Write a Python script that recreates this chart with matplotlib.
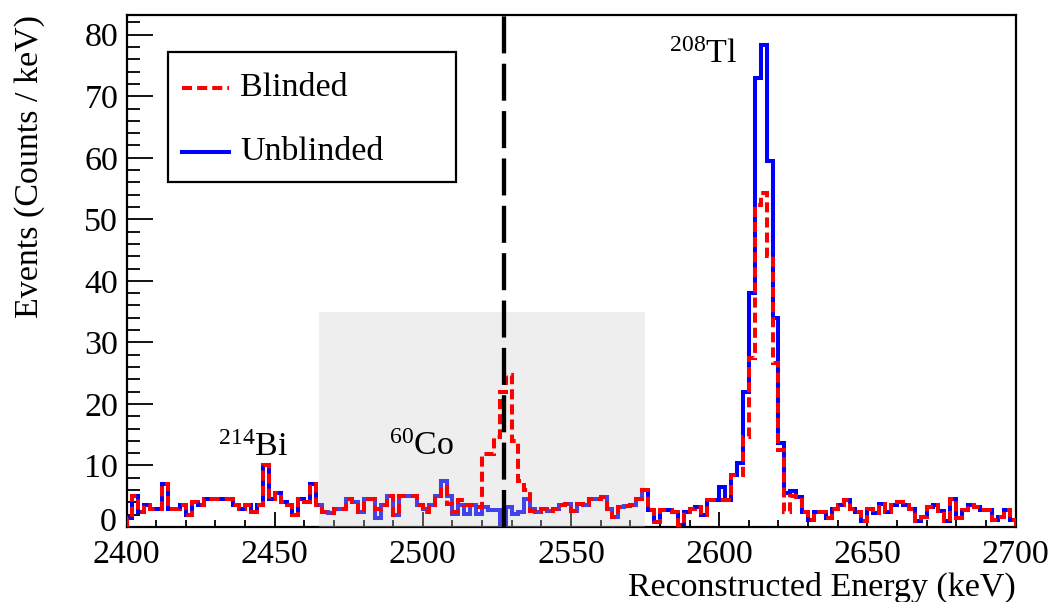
import numpy as np
import matplotlib
matplotlib.use("Agg")
import matplotlib.pyplot as plt
import matplotlib.transforms as mtransforms
from matplotlib.patches import Rectangle
from matplotlib.lines import Line2D
from matplotlib.ticker import MultipleLocator

# ---------------- data ----------------
bin_width = 2.0
e_min, e_max = 2400, 2700

unblinded = [
    1.5, 5.0, 2.5, 3.5, 3.0, 3.0, 7.0, 3.0, 3.0, 3.5,
    2.0, 4.0, 3.5, 4.5, 4.5, 4.5, 4.5, 4.5, 3.5, 3.0,
    3.5, 2.5, 3.5, 10.0, 4.5, 5.5, 4.0, 3.5, 2.0, 4.5,
    4.0, 7.0, 3.5, 2.5, 2.2, 3.0, 3.0, 4.5, 4.0, 2.5,
    4.5, 4.5, 1.4, 3.5, 5.0, 2.0, 5.0, 5.0, 5.0, 3.5,
    3.0, 3.6, 5.0, 7.5, 5.0, 2.1, 3.6, 2.1, 3.6, 2.1,
    3.3, 2.8, 2.8, 0.0, 3.3, 2.1, 2.5, 4.5, 3.0, 2.5,
    3.0, 2.6, 3.0, 3.6, 3.8, 2.6, 3.7, 3.6, 4.6, 4.6,
    4.8, 3.0, 1.6, 3.2, 3.4, 3.6, 4.5, 6.0, 2.8, 0.8,
    2.8, 2.8, 2.4, 0.3, 2.4, 3.0, 3.2, 2.0, 4.4, 4.4,
    6.5, 4.4, 8.5, 10.4, 22.0, 38.0, 73.0, 78.4, 59.4, 33.9,
    13.6, 5.5, 5.8, 4.9, 2.5, 1.1, 2.5, 2.5, 1.4, 3.0,
    3.6, 4.4, 3.0, 2.5, 1.0, 3.0, 2.2, 3.8, 2.5, 3.5,
    4.0, 3.5, 3.0, 1.0, 1.6, 3.2, 3.5, 2.6, 1.0, 4.5,
    1.5, 2.7, 3.5, 3.2, 2.8, 2.8, 1.1, 1.6, 2.7, 1.2,
]

blinded = [
    1.5, 5.0, 2.5, 3.5, 3.0, 3.0, 7.0, 3.0, 3.0, 3.5,
    2.0, 4.0, 3.5, 4.5, 4.5, 4.5, 4.5, 4.5, 3.5, 3.0,
    3.5, 2.5, 3.5, 10.0, 4.5, 5.5, 4.0, 3.5, 2.0, 4.5,
    4.0, 7.0, 3.5, 2.5, 2.2, 3.0, 3.0, 4.5, 4.0, 2.5,
    4.5, 4.5, 3.0, 3.5, 5.0, 2.0, 5.0, 5.0, 5.0, 3.5,
    2.5, 3.6, 5.0, 6.5, 3.8, 2.5, 4.4, 3.6, 3.6, 3.3,
    11.8, 11.8, 14.7, 21.9, 24.7, 14.0, 7.4, 6.0, 2.6, 2.5,
    3.0, 2.6, 3.0, 3.6, 3.8, 2.6, 3.7, 3.6, 4.6, 4.6,
    4.8, 3.0, 1.6, 3.2, 3.4, 3.6, 4.5, 6.0, 2.8, 0.8,
    2.8, 2.8, 2.4, 0.3, 2.4, 3.0, 3.2, 2.0, 4.4, 4.4,
    4.4, 4.4, 8.5, 8.5, 14.7, 27.4, 52.4, 54.3, 44.0, 26.6,
    12.5, 2.5, 5.0, 4.9, 2.5, 1.1, 2.5, 2.5, 1.4, 3.0,
    3.6, 4.4, 3.0, 2.5, 1.0, 3.0, 2.2, 3.8, 2.5, 3.5,
    4.0, 3.5, 3.0, 1.0, 1.6, 3.2, 3.5, 2.6, 1.0, 4.5,
    1.5, 2.7, 3.5, 3.2, 2.8, 2.8, 1.1, 1.6, 2.7, 1.2,
]

blind_region = (2465, 2575)
blind_height = 35
q_value = 2527.5
x_ticks = [2400, 2450, 2500, 2550, 2600, 2650, 2700]
y_ticks = [0, 10, 20, 30, 40, 50, 60, 70, 80]
y_max = 83.2

edges = e_min + bin_width * np.arange(len(unblinded) + 1)

# ---------------- style ----------------
FONT = "Liberation Serif"
plt.rcParams["font.family"] = [FONT, "DejaVu Serif"]
plt.rcParams["mathtext.fontset"] = "custom"
plt.rcParams["mathtext.rm"] = FONT
plt.rcParams["mathtext.it"] = FONT + ":italic"
FS = 24.5
LW = 2.9
RED_DASH = (0, (2.5, 1.25))

W, H = 1052, 602
fig = plt.figure(figsize=(W / 100, H / 100), dpi=100)
ax_l, ax_r, ax_t, ax_b = 126.5, 1015.5, 15, 527
ax = fig.add_axes([ax_l / W, 1 - ax_b / H, (ax_r - ax_l) / W, (ax_b - ax_t) / H])

ax.set_xlim(e_min, e_max)
ax.set_ylim(0, y_max)

# unblinded (below the shaded box)
ax.stairs(unblinded, edges, baseline=0, color="#0000ff", lw=LW, zorder=2)

# shaded blinded region (semi-transparent overlay)
ax.add_patch(Rectangle((blind_region[0], 0), blind_region[1] - blind_region[0], blind_height,
                       facecolor=(0.80, 0.80, 0.80), alpha=0.33, edgecolor="none", zorder=3))

# blinded
ax.stairs(blinded, edges, baseline=0, color="#ff0000", lw=LW,
          linestyle=RED_DASH, zorder=4)

# Q-value line
ax.plot([q_value, q_value], [0, y_max], color="black", lw=3.1,
        linestyle=(0, (8.6, 2.4)), zorder=5, solid_capstyle="butt", dash_capstyle="butt")

# ticks
ax.xaxis.set_minor_locator(MultipleLocator(10))
ax.yaxis.set_minor_locator(MultipleLocator(2))
ax.set_xticks(x_ticks)
ax.set_yticks(y_ticks)
ax.tick_params(axis="both", which="both", direction="in", colors="black",
               labelsize=FS, width=1.3)
ax.tick_params(axis="y", which="major", length=19, pad=6)
ax.tick_params(axis="y", which="minor", length=9.5)
ax.tick_params(axis="x", which="major", length=10.5, pad=9)
ax.tick_params(axis="x", which="minor", length=5)
for s in ax.spines.values():
    s.set_linewidth(1.6)

# lift the "0" label a little so it does not collide with "2400"
fig.canvas.draw()
zero_lbl = ax.yaxis.get_majorticklabels()[0]
zero_lbl.set_transform(zero_lbl.get_transform() +
                       mtransforms.ScaledTranslation(-2 / 100, 8 / 100, fig.dpi_scale_trans))

ax.set_xlabel("Reconstructed Energy (keV)", fontsize=FS, loc="right", labelpad=1)
ax.set_ylabel("Events (Counts / keV)", fontsize=FS, loc="top")
ax.yaxis.set_label_coords(-0.092, 1.0)

# annotations
ax.text(2431, 11.5, r"$^{214}$Bi", fontsize=FS, ha="left", va="baseline")
ax.text(2488.7, 11.7, r"$^{60}$Co", fontsize=FS, ha="left", va="baseline")
ax.text(2583, 75.4, r"$^{208}$Tl", fontsize=FS, ha="left", va="baseline")

# legend box (in pixel coordinates of the figure)
def fx(px):
    return px / W

def fy(py):
    return 1 - py / H

fig.add_artist(Rectangle((fx(168), fy(182)), fx(456) - fx(168), fy(52) - fy(182),
                         transform=fig.transFigure, facecolor="white",
                         edgecolor="black", lw=1.6, zorder=10))
fig.add_artist(Line2D([fx(182), fx(229)], [fy(88), fy(88)], transform=fig.transFigure,
                      color="#ff0000", lw=LW, linestyle=RED_DASH, zorder=11))
fig.add_artist(Line2D([fx(182), fx(229)], [fy(152), fy(152)], transform=fig.transFigure,
                      color="#0000ff", lw=LW, zorder=11))
fig.text(fx(240), fy(88), "Blinded", fontsize=FS, va="center", ha="left", zorder=12)
fig.text(fx(240), fy(152), "Unblinded", fontsize=FS, va="center", ha="left", zorder=12)

fig.savefig("out.png", dpi=100)
